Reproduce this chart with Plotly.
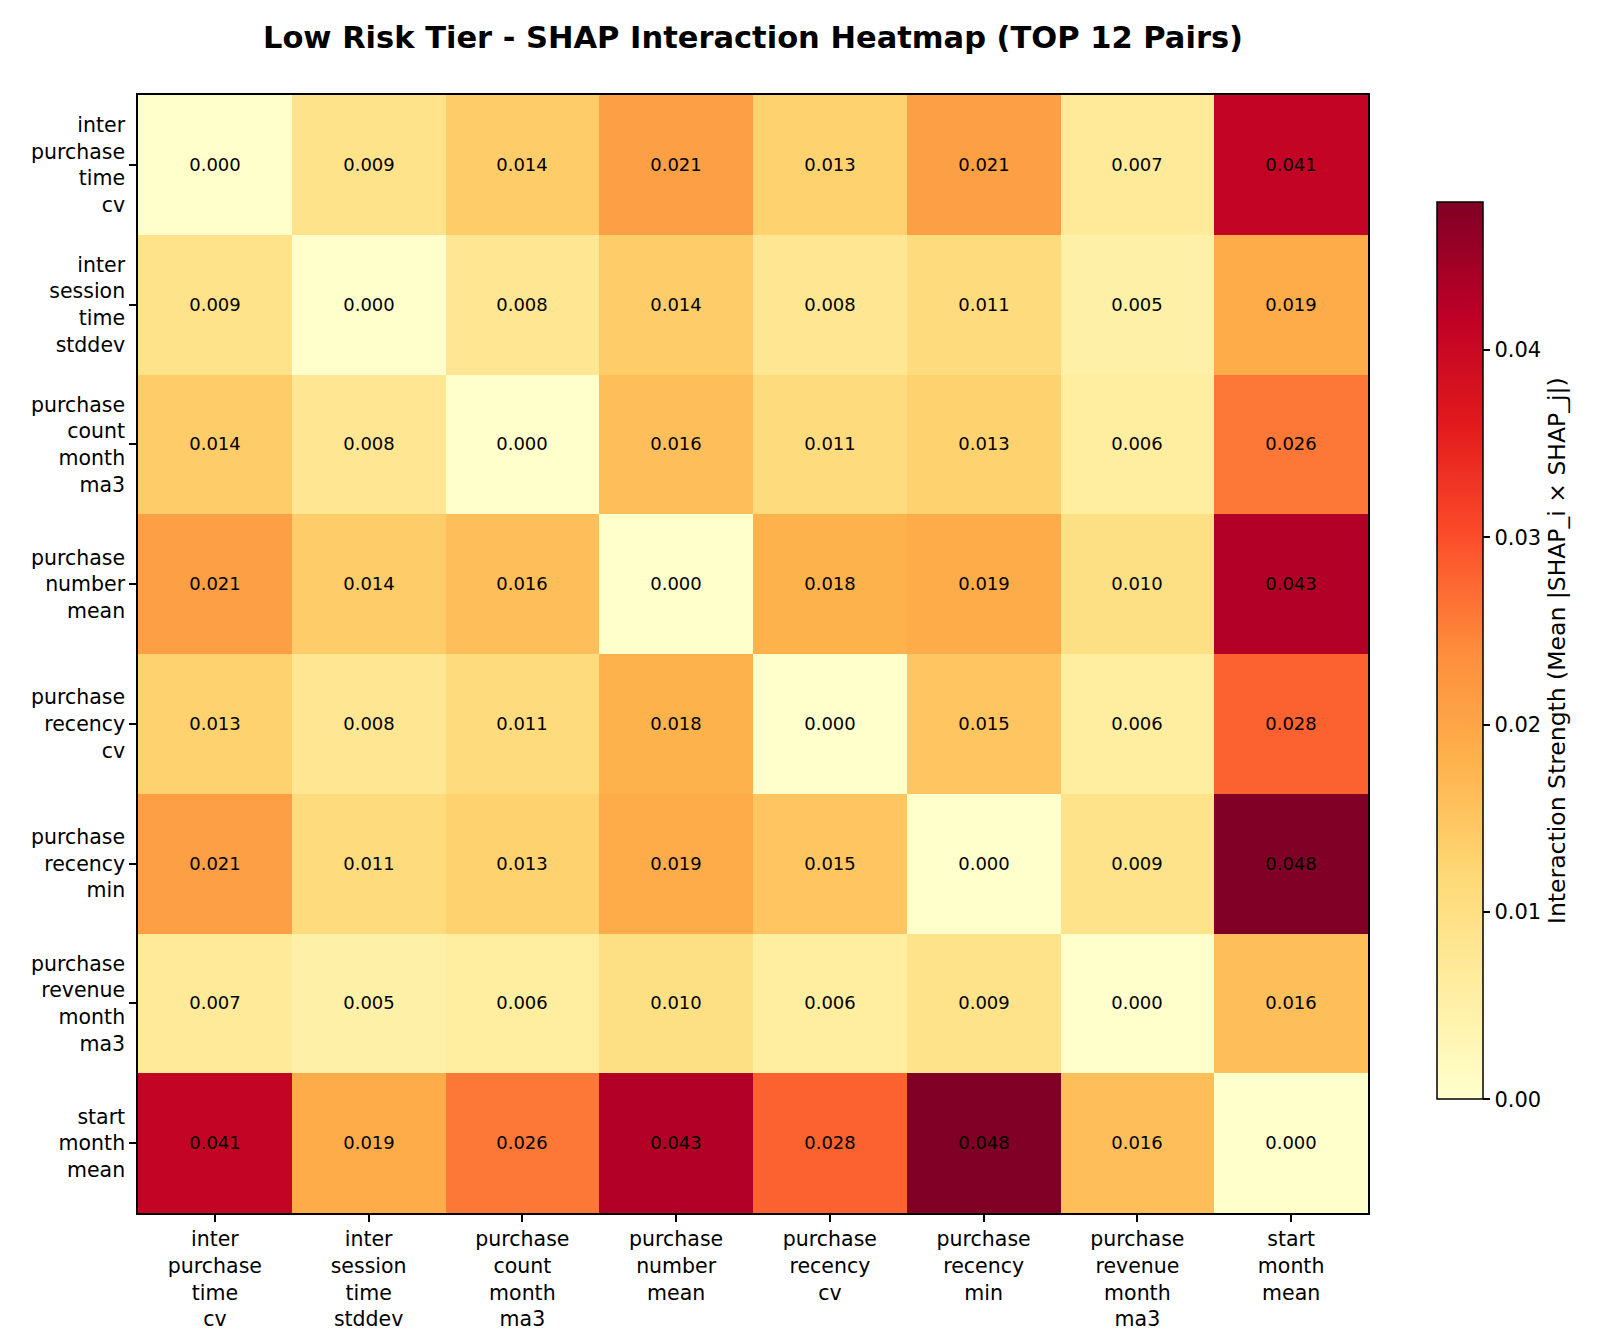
import plotly.graph_objects as go

features = [
    "inter<br>purchase<br>time<br>cv",
    "inter<br>session<br>time<br>stddev",
    "purchase<br>count<br>month<br>ma3",
    "purchase<br>number<br>mean",
    "purchase<br>recency<br>cv",
    "purchase<br>recency<br>min",
    "purchase<br>revenue<br>month<br>ma3",
    "start<br>month<br>mean",
]

row_0 = [0.000, 0.009, 0.014, 0.021, 0.013, 0.021, 0.007, 0.041]
row_1 = [0.009, 0.000, 0.008, 0.014, 0.008, 0.011, 0.005, 0.019]
row_2 = [0.014, 0.008, 0.000, 0.016, 0.011, 0.013, 0.006, 0.026]
row_3 = [0.021, 0.014, 0.016, 0.000, 0.018, 0.019, 0.010, 0.043]
row_4 = [0.013, 0.008, 0.011, 0.018, 0.000, 0.015, 0.006, 0.028]
row_5 = [0.021, 0.011, 0.013, 0.019, 0.015, 0.000, 0.009, 0.048]
row_6 = [0.007, 0.005, 0.006, 0.010, 0.006, 0.009, 0.000, 0.016]
row_7 = [0.041, 0.019, 0.026, 0.043, 0.028, 0.048, 0.016, 0.000]
z = [row_0, row_1, row_2, row_3, row_4, row_5, row_6, row_7]

cbar_ticks = [0, 0.01, 0.02, 0.03, 0.04]
cbar_ticktext = ["0.00", "0.01", "0.02", "0.03", "0.04"]

ylorrd = [
    [0.0, "#ffffcc"], [0.125, "#ffeda0"], [0.25, "#fed976"], [0.375, "#feb24c"],
    [0.5, "#fd8d3c"], [0.625, "#fc4e2a"], [0.75, "#e31a1c"], [0.875, "#bd0026"],
    [1.0, "#800026"],
]

idx = list(range(len(features)))

fig = go.Figure(go.Heatmap(
    z=z, x=idx, y=idx,
    colorscale=ylorrd, zmin=0, zmax=0.0479,
    texttemplate="%{z:.3f}", textfont=dict(size=18, color="black", family="DejaVu Sans"),
    colorbar=dict(
        x=1.056, xanchor="left", xpad=0, y=0.503, yanchor="middle", ypad=0,
        len=0.802, lenmode="fraction",
        thickness=46, outlinecolor="black", outlinewidth=1.5,
        ticks="outside", ticklen=7, tickcolor="black", tickwidth=1.5,
        tickvals=cbar_ticks, ticktext=cbar_ticktext,
        tickfont=dict(size=21, color="black"),
        title=dict(text="Interaction Strength (Mean |SHAP_i × SHAP_j|)", side="right",
                   font=dict(size=23.5, color="black")),
    ),
))

common_axis = dict(
    tickmode="array", tickvals=idx, ticktext=features,
    ticks="outside", ticklen=7, tickcolor="black", tickwidth=1.5,
    showline=True, linecolor="black", linewidth=1.5, mirror=True,
    showgrid=False, zeroline=False,
    tickfont=dict(size=20.5, color="black"),
)
fig.update_xaxes(range=[-0.5, 7.5], **common_axis)
fig.update_yaxes(range=[7.5, -0.5], **common_axis)

fig.update_layout(
    width=1600, height=1335,
    margin=dict(l=130, r=240, t=87, b=124),
    paper_bgcolor="white", plot_bgcolor="white",
    font=dict(family="DejaVu Sans", color="black"),
    title=dict(text="<b>Low Risk Tier - SHAP Interaction Heatmap (TOP 12 Pairs)</b>",
               xref="paper", x=0.5, xanchor="center", y=0.978, yanchor="middle",
               font=dict(size=30.5, color="black")),
)

fig.write_html("out.html")
